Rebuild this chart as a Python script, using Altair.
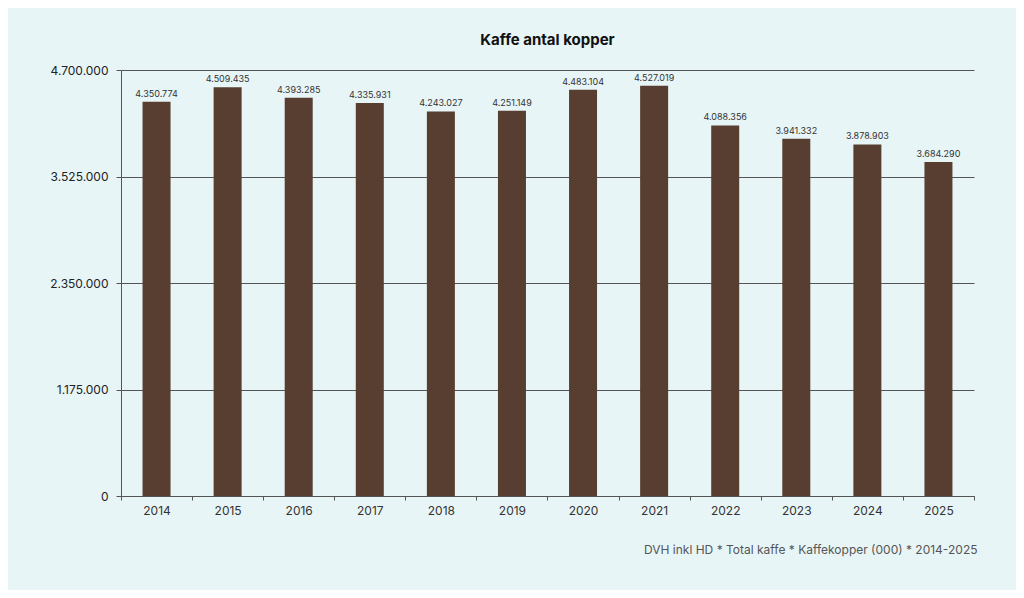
import altair as alt
import pandas as pd

years = ["2014", "2015", "2016", "2017", "2018", "2019", "2020", "2021", "2022", "2023", "2024", "2025"]
cups = [4350774, 4509435, 4393285, 4335931, 4243027, 4251149, 4483104, 4527019, 4088356, 3941332, 3878903, 3684290]
y_ticks = [0, 1175000, 2350000, 3525000, 4700000]

df = pd.DataFrame({"year": years, "cups": cups})

FONT = "Inter"
BG = "#e8f5f7"
BAR = "#573e31"
dot_fmt = "replace(format(datum.value, ','), regexp(',', 'g'), '.')"

base = alt.Chart(df).encode(
    x=alt.X(
        "year:N",
        sort=years,
        scale=alt.Scale(paddingInner=0, paddingOuter=0),
        axis=alt.Axis(
            title="DVH inkl HD * Total kaffe * Kaffekopper (000) * 2014-2025",
            titleAnchor="end",
            titleFontWeight="normal",
            titleFontSize=12,
            titleColor="#555555",
            titlePadding=28,
            titleX=856,
            titleAlign="right",
            labelAngle=0,
            labelFontSize=12,
            labelColor="#333333",
            labelPadding=5,
            tickBand="extent",
            tickSize=4,
            tickColor="#555555",
            domainColor="#555555",
            grid=False,
        ),
    ),
)

bars = base.mark_bar(width=28, color=BAR).encode(
    y=alt.Y(
        "cups:Q",
        scale=alt.Scale(domain=[0, 4700000], nice=False),
        axis=alt.Axis(
            title=None,
            values=y_ticks,
            labelExpr=dot_fmt,
            labelFontSize=12,
            labelColor="#222222",
            labelPadding=8,
            tickSize=5,
            tickColor="#555555",
            domainColor="#555555",
            gridColor="#555555",
            gridWidth=1,
        ),
    )
)

labels = base.mark_text(
    baseline="bottom", dy=-3, fontSize=9, color="#333333", font=FONT
).encode(
    y=alt.Y("cups:Q"),
    text=alt.Text("label:N"),
).transform_calculate(label=dot_fmt.replace("datum.value", "datum.cups"))

chart = (
    alt.layer(bars, labels)
    .properties(
        width=853,
        height=426,
        title=alt.TitleParams(
            "Kaffe antal kopper", fontSize=15, fontWeight="bold", color="#111111", offset=16, font=FONT
        ),
        autosize=alt.AutoSizeParams(type="none"),
        padding={"left": 113, "top": 62, "right": 42, "bottom": 94},
        background=BG,
    )
    .configure_view(stroke=None)
    .configure_axis(labelFont=FONT, titleFont=FONT)
)

chart.save("out.html", embed_options={"renderer": "svg", "actions": False})
